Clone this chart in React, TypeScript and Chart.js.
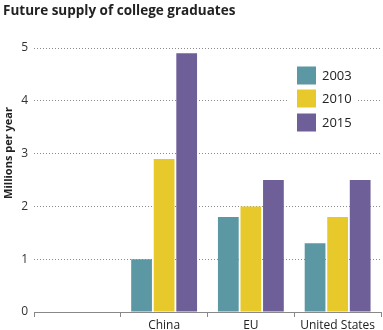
import React, { useEffect, useRef } from "react";
import { Chart, registerables } from "chart.js";

Chart.register(...registerables);

const categories = ["", "China", "EU", "United States"];
const seriesLabels = ["2003", "2010", "2015"];
const values2003 = [null, 1.0, 1.8, 1.3];
const values2010 = [null, 2.9, 2.0, 1.8];
const values2015 = [null, 4.9, 2.5, 2.5];
const yTicks = [0, 1, 2, 3, 4, 5];
const colors = ["#5b98a3", "#e8c92c", "#6e5f99"];
const titleText = "Future supply of college graduates";
const yTitle = "Millions per year";

const FONT = "'Open Sans', 'Noto Sans', sans-serif";

const overlayPlugin = {
  id: "overlay",
  afterDatasetsDraw(chart: any) {
    const ctx = chart.ctx;
    ctx.save();
    // title
    ctx.fillStyle = "#222";
    ctx.font = `bold 13.5px ${FONT}`;
    ctx.textBaseline = "middle";
    ctx.textAlign = "left";
    ctx.fillText(titleText, 3, 11);
    // y title
    ctx.save();
    ctx.translate(9, 153);
    ctx.rotate(-Math.PI / 2);
    ctx.font = `bold 11px ${FONT}`;
    ctx.textAlign = "center";
    ctx.fillText(yTitle, 0, 0);
    ctx.restore();
    // legend
    ctx.fillStyle = "#fff";
    ctx.fillRect(287, 62, 70, 74);
    const rows = [75.5, 98.5, 122.5];
    chart.data.datasets.forEach((ds: any, i: number) => {
      ctx.fillStyle = ds.backgroundColor;
      ctx.fillRect(297, rows[i] - 9, 19, 18);
      ctx.fillStyle = "#222";
      ctx.font = `13px ${FONT}`;
      ctx.textAlign = "left";
      ctx.fillText(ds.label, 322, rows[i] + 1);
    });
    ctx.restore();
  },
};

export default function App() {
  const ref = useRef<HTMLCanvasElement>(null);
  useEffect(() => {
    const data = [values2003, values2010, values2015];
    const chart = new Chart(ref.current!, {
      type: "bar",
      data: {
        labels: categories,
        datasets: seriesLabels.map((l, i) => ({
          label: l,
          data: data[i] as any,
          backgroundColor: colors[i],
          borderWidth: 0,
          categoryPercentage: 0.78,
          barPercentage: 0.92,
        })),
      },
      options: {
        animation: false,
        responsive: false,
        maintainAspectRatio: false,
        layout: { padding: { top: 48, right: 2, left: 0, bottom: 0 } },
        plugins: { legend: { display: false }, title: { display: false }, tooltip: { enabled: false } },
        scales: {
          x: {
            offset: true,
            grid: {
              offset: true,
              drawOnChartArea: false,
              drawTicks: true,
              tickLength: 5,
              color: "#888",
            },
            border: { display: true, color: "#888", width: 1 },
            ticks: { color: "#222", font: { family: FONT, size: 12 }, padding: 1 },
            afterFit: (s: any) => { s.height = 18; },
          },
          y: {
            min: 0,
            max: 5,
            afterBuildTicks: (s: any) => { s.ticks = yTicks.map((v) => ({ value: v })); },
            grid: { color: "#8a8a8a", drawTicks: false, lineWidth: 1 },
            border: { display: false, dash: [1, 2] },
            ticks: { color: "#333", font: { family: FONT, size: 12 }, padding: 6 },
            afterFit: (s: any) => { s.width = 34; },
          },
        },
      },
      plugins: [overlayPlugin],
    });
    return () => chart.destroy();
  }, []);
  return (
    <div style={{ position: "fixed", left: 0, top: 0, width: 383, height: 330, background: "#fff" }}>
      <canvas ref={ref} width={383} height={330} style={{ width: 383, height: 330 }} />
    </div>
  );
}
